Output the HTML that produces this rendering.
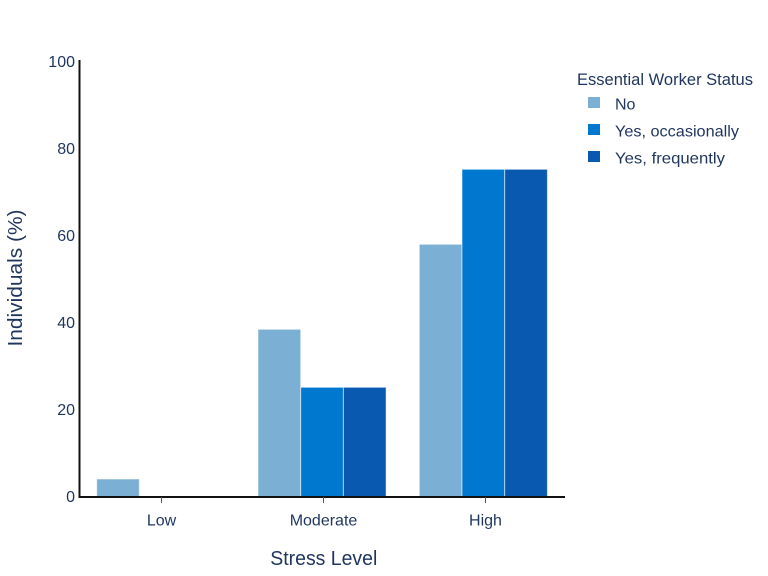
<!DOCTYPE html>
<html><head><meta charset="utf-8"><style>
html,body{margin:0;padding:0;background:#fff;}
svg{display:block;}
text{font-family:"Liberation Sans",sans-serif;fill:#1f355e;}
</style></head><body>
<svg width="768" height="576" viewBox="0 0 768 576" xmlns="http://www.w3.org/2000/svg">
<rect width="768" height="576" fill="#fff"/>
<g stroke="rgba(255,255,255,0.55)" stroke-width="1">
<rect x="96.7" y="479" width="42.6" height="18" fill="#7bafd4"/>
<rect x="258" y="329.3" width="42.7" height="167.7" fill="#7bafd4"/>
<rect x="300.7" y="387.3" width="42.7" height="109.7" fill="#0078cf"/>
<rect x="343.4" y="387.3" width="42.7" height="109.7" fill="#0a59b1"/>
<rect x="419.3" y="244.3" width="42.7" height="252.7" fill="#7bafd4"/>
<rect x="462" y="169.3" width="42.7" height="327.7" fill="#0078cf"/>
<rect x="504.7" y="169.3" width="42.7" height="327.7" fill="#0a59b1"/>
</g>
<line x1="79.5" y1="60" x2="79.5" y2="498" stroke="#111" stroke-width="2"/>
<line x1="78.5" y1="497" x2="565" y2="497" stroke="#111" stroke-width="2"/>
<g stroke="#555" stroke-width="1">
<line x1="161.5" y1="497" x2="161.5" y2="503"/>
<line x1="323.5" y1="497" x2="323.5" y2="503"/>
<line x1="485.5" y1="497" x2="485.5" y2="503"/>
</g>
<g font-size="16" text-anchor="end">
<text x="75" y="67">100</text>
<text x="75" y="154">80</text>
<text x="75" y="241">60</text>
<text x="75" y="328">40</text>
<text x="75" y="415">20</text>
<text x="75" y="502">0</text>
</g>
<g font-size="16" text-anchor="middle">
<text x="161.5" y="525.5">Low</text>
<text x="323.5" y="525.5">Moderate</text>
<text x="485.5" y="525.5">High</text>
</g>
<text x="323.8" y="565" font-size="20" text-anchor="middle" textLength="107" lengthAdjust="spacingAndGlyphs">Stress Level</text>
<text transform="translate(22,278) rotate(-90)" font-size="20" text-anchor="middle" textLength="137" lengthAdjust="spacingAndGlyphs">Individuals (%)</text>
<text x="577" y="85" font-size="16.5" textLength="176" lengthAdjust="spacingAndGlyphs">Essential Worker Status</text>
<rect x="588" y="97" width="12" height="11" fill="#7bafd4"/>
<rect x="588" y="124" width="12" height="11" fill="#0078cf"/>
<rect x="588" y="151" width="12" height="11" fill="#0a59b1"/>
<text x="615" y="109.5" font-size="16">No</text>
<text x="615" y="136.5" font-size="16" textLength="124" lengthAdjust="spacingAndGlyphs">Yes, occasionally</text>
<text x="615" y="163.5" font-size="16" textLength="110" lengthAdjust="spacingAndGlyphs">Yes, frequently</text>
</svg>
</body></html>
